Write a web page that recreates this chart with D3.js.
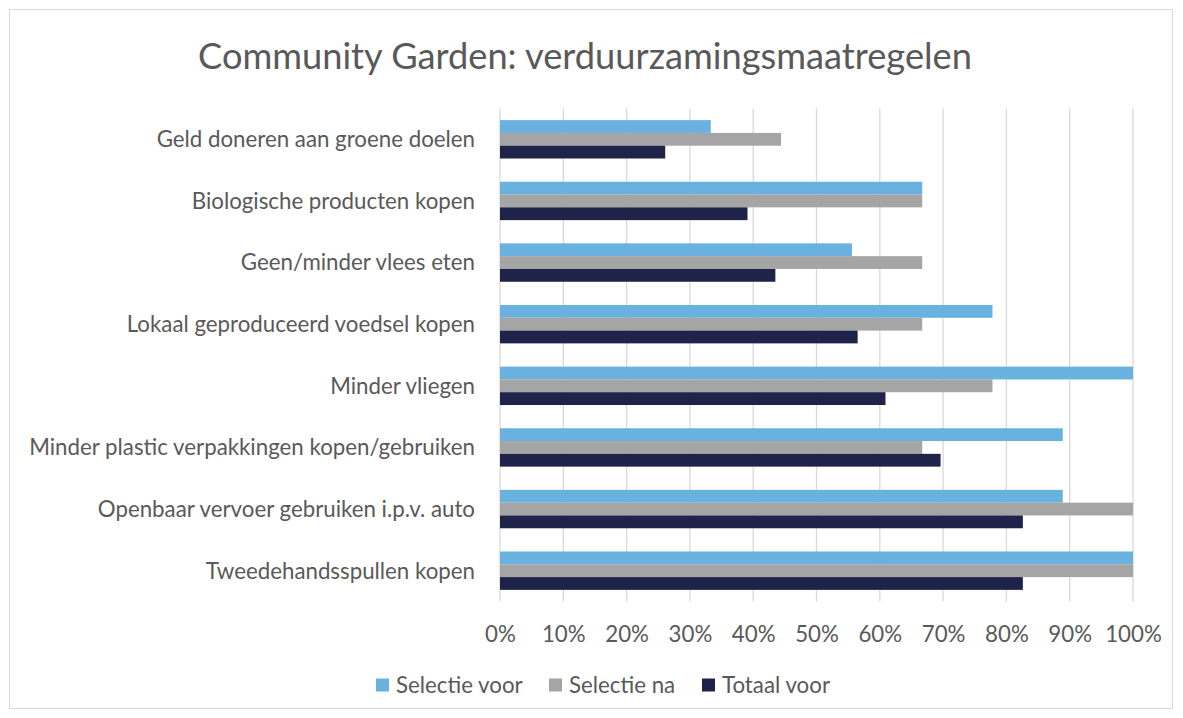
<!DOCTYPE html>
<html>
<head>
<meta charset="utf-8">
<script src="https://cdn.jsdelivr.net/npm/d3@7"></script>
<style>
  html, body { margin: 0; padding: 0; background: #fff; }
  svg { display: block; }
  text { font-family: "Lato", "Open Sans", sans-serif; fill: #595959; }
</style>
</head>
<body>
<svg id="chart" width="1183" height="718"></svg>
<script>
const title = "Community Garden: verduurzamingsmaatregelen";
const categories = [
  "Geld doneren aan groene doelen",
  "Biologische producten kopen",
  "Geen/minder vlees eten",
  "Lokaal geproduceerd voedsel kopen",
  "Minder vliegen",
  "Minder plastic verpakkingen kopen/gebruiken",
  "Openbaar vervoer gebruiken i.p.v. auto",
  "Tweedehandsspullen kopen"
];
const seriesNames = ["Selectie voor", "Selectie na", "Totaal voor"];
const selectieVoor = [33.3, 66.7, 55.6, 77.8, 100, 88.9, 88.9, 100];
const selectieNa   = [44.4, 66.7, 66.7, 66.7, 77.8, 66.7, 100, 100];
const totaalVoor   = [26.1, 39.1, 43.5, 56.5, 60.9, 69.6, 82.6, 82.6];
const seriesValues = [selectieVoor, selectieNa, totaalVoor];
const colors = ["#69b1de", "#a5a5a5", "#1f2249"];
const xTicks = [0, 10, 20, 30, 40, 50, 60, 70, 80, 90, 100];

const svg = d3.select("#chart");

// chart border
svg.append("rect")
  .attr("x", 9.5).attr("y", 9.5).attr("width", 1163).attr("height", 699)
  .attr("fill", "#fff").attr("stroke", "#d9d9d9").attr("stroke-width", 1);

const plot = { left: 500, right: 1133, top: 108.5, bottom: 601.5 };

const x = d3.scaleLinear().domain([0, 100]).range([plot.left, plot.right]);
const y = d3.scaleBand().domain(categories).range([plot.top, plot.bottom])
  .paddingInner(0.377).paddingOuter(0.1885);
const ySub = d3.scaleBand().domain(seriesNames).range([0, y.bandwidth()]);

function fitSize(textStr, baseSize, targetWidth, weight) {
  const t = svg.append("text").attr("font-size", baseSize).attr("font-weight", weight || 400).text(textStr);
  const w = t.node().getComputedTextLength();
  t.remove();
  return baseSize * targetWidth / w;
}
const labelSize = fitSize("Minder plastic verpakkingen kopen/gebruiken", 18, 446);
const titleSize = fitSize(title, 30, 774, 400);

// title
svg.append("text")
  .attr("x", 585).attr("y", 55)
  .attr("text-anchor", "middle").attr("dominant-baseline", "central")
  .attr("font-size", titleSize)
  .attr("font-weight", 400)
  .text(title);

// gridlines
svg.append("g").selectAll("line").data(xTicks).join("line")
  .attr("x1", d => x(d)).attr("x2", d => x(d))
  .attr("y1", plot.top).attr("y2", plot.bottom)
  .attr("stroke", "#d9d9d9").attr("stroke-width", 1.3);

// bars
const groups = svg.append("g").selectAll("g").data(categories).join("g")
  .attr("transform", c => `translate(0,${y(c)})`);
groups.selectAll("rect")
  .data((c, i) => seriesNames.map((s, j) => ({ s, v: seriesValues[j][i], j })))
  .join("rect")
  .attr("x", x(0))
  .attr("y", d => ySub(d.s))
  .attr("width", d => x(d.v) - x(0))
  .attr("height", ySub.bandwidth())
  .attr("fill", d => colors[d.j]);

// category axis labels
const yAxis = d3.axisLeft(y).tickSize(0).tickPadding(0);
const yg = svg.append("g").attr("transform", `translate(475,0)`).call(yAxis);
yg.select(".domain").remove();
yg.selectAll("text")
  .attr("font-size", labelSize)
  .attr("font-family", null)
  .attr("fill", "#595959")
  .attr("dy", "0.35em");

// x axis labels
const xAxis = d3.axisBottom(x).tickValues(xTicks).tickFormat(d => d + "%").tickSize(0).tickPadding(0);
const xg = svg.append("g").attr("transform", `translate(0,634)`).call(xAxis);
xg.select(".domain").remove();
xg.selectAll("text")
  .attr("font-size", labelSize)
  .attr("font-family", null)
  .attr("fill", "#595959")
  .attr("y", 0)
  .attr("dy", "0.35em");

// legend
const legendStarts = [376, 549, 702];
const legend = svg.append("g").selectAll("g").data(seriesNames).join("g")
  .attr("transform", (d, i) => `translate(${legendStarts[i]},685)`);
legend.append("rect")
  .attr("x", 0).attr("y", -6.5).attr("width", 13).attr("height", 13)
  .attr("fill", (d, i) => colors[i]);
legend.append("text")
  .attr("x", 20).attr("y", 0).attr("dy", "0.35em")
  .attr("font-size", labelSize)
  .text(d => d);
</script>
</body>
</html>
